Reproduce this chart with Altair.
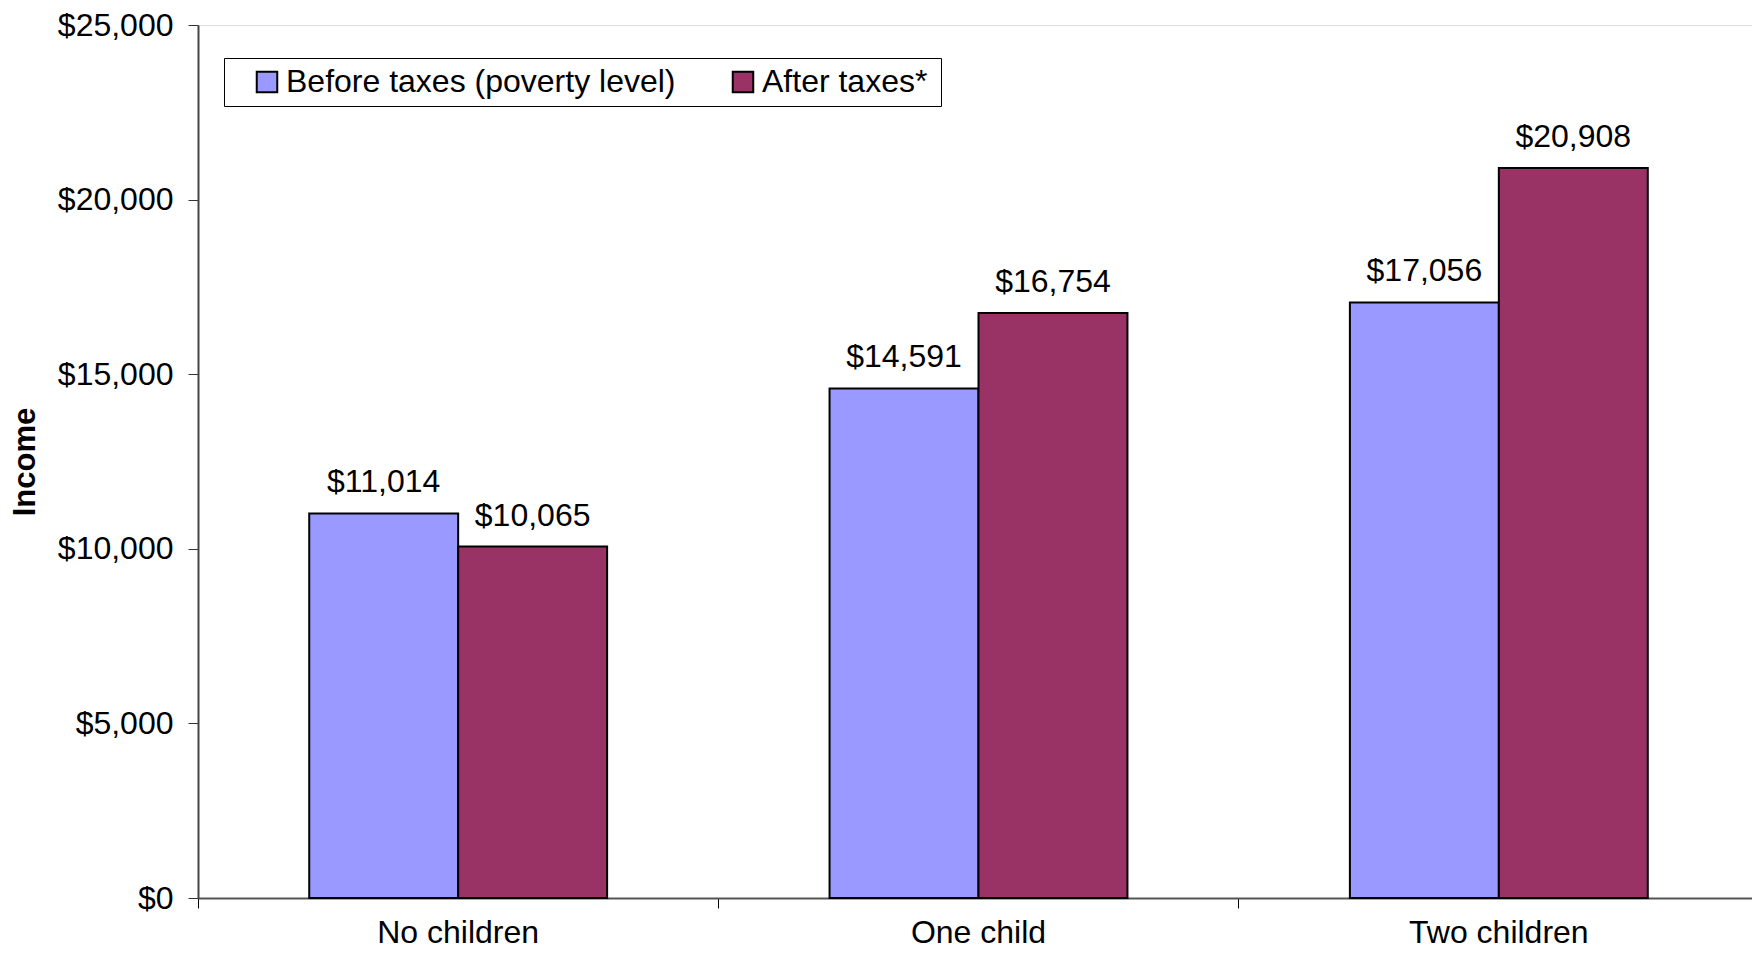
import altair as alt
import pandas as pd

categories = ["No children", "One child", "Two children"]
series = ["Before taxes (poverty level)", "After taxes*"]
before_taxes = [11014, 14591, 17056]
after_taxes = [10065, 16754, 20908]
colors = ["#9999FF", "#993366"]
y_ticks = [0, 5000, 10000, 15000, 20000, 25000]

rows = []
for c, b, a in zip(categories, before_taxes, after_taxes):
    rows.append({"category": c, "series": series[0], "income": b})
    rows.append({"category": c, "series": series[1], "income": a})
df = pd.DataFrame(rows)

FONT = "Liberation Sans"
FS = 32
W, H = 1554, 873
RANGE_W = 1561
PI = 0.4275
PO = PI / 2
band_pos = -PO / (1 - PI)

x_scale = alt.Scale(paddingInner=PI, paddingOuter=PO, range=[0, RANGE_W])

x_enc = alt.X(
    "category:N",
    sort=categories,
    scale=x_scale,
    axis=alt.Axis(
        title=None,
        labelAngle=0,
        bandPosition=band_pos,
        tickSize=10,
        tickColor="#000000",
        domainColor="#555555",
        domainWidth=2,
        labelFontSize=FS,
        labelFont=FONT,
        labelColor="#000000",
        labelPadding=9,
        labelBound=False,
        labelOverlap=False,
    ),
)
xoff_enc = alt.XOffset("series:N", sort=series, scale=alt.Scale(paddingInner=0, paddingOuter=0))
y_enc = alt.Y(
    "income:Q",
    scale=alt.Scale(domain=[0, 25000], nice=False),
    axis=alt.Axis(
        title="Income",
        values=y_ticks,
        format="$,.0f",
        grid=False,
        tickSize=10,
        tickColor="#333333",
        domainColor="#444444",
        domainWidth=2,
        labelFontSize=FS,
        labelFont=FONT,
        labelColor="#000000",
        labelPadding=15,
        titleFont=FONT,
        titleFontSize=31,
        titleFontWeight="bold",
        titleColor="#000000",
        titlePadding=16,
    ),
)

bars = alt.Chart(df).mark_bar(stroke="#000000", strokeWidth=2).encode(
    x=x_enc,
    xOffset=xoff_enc,
    y=y_enc,
    color=alt.Color(
        "series:N",
        sort=series,
        scale=alt.Scale(domain=series, range=colors),
        legend=alt.Legend(
            title=" ",
            titleOrient="right",
            titlePadding=6,
            titleFontSize=FS,
            orient="none",
            legendX=26,
            legendY=33,
            direction="horizontal",
            symbolType="square",
            symbolSize=420,
            symbolStrokeColor="#000000",
            symbolStrokeWidth=2,
            symbolOffset=19,
            labelFontSize=FS,
            labelFont=FONT,
            labelColor="#000000",
            labelOffset=3,
            labelLimit=1000,
            columnPadding=32,
            padding=8,
            strokeColor="#000000",
            fillColor="#FFFFFF",
        ),
    ),
)

labels = alt.Chart(df).mark_text(
    baseline="alphabetic", dy=-21, fontSize=FS, font=FONT, color="#000000"
).encode(
    x=alt.X("category:N", sort=categories),
    xOffset=alt.XOffset("series:N", sort=series),
    y=alt.Y("income:Q"),
    text=alt.Text("income:Q", format="$,.0f"),
)

chart = (
    alt.layer(bars, labels)
    .properties(
        width=W,
        height=H,
        autosize=alt.AutoSizeParams(type="none"),
        padding={"left": 190, "top": 17, "right": 0, "bottom": 55},
    )
    .configure_view(stroke="#808080", strokeWidth=2)
    .configure(background="#FFFFFF")
)

chart.save("out.html", embed_options={"renderer": "svg", "actions": False})
